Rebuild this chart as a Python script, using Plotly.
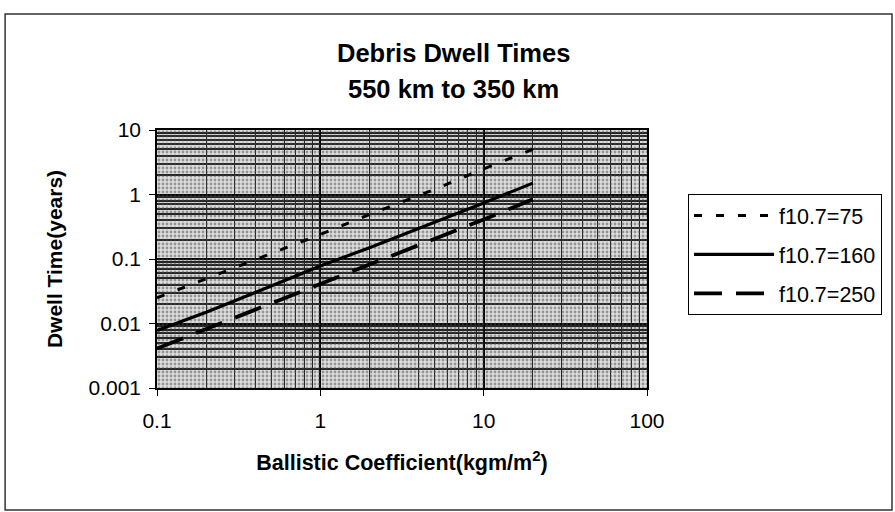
import plotly.graph_objects as go

# ---- data ----
ballistic_coef = [0.1, 0.2, 0.5, 1, 2, 5, 10, 20]
f75 = [0.025, 0.049, 0.12, 0.24, 0.49, 1.2, 2.5, 5.0]
f160 = [0.0078, 0.015, 0.038, 0.078, 0.15, 0.37, 0.74, 1.5]
f250 = [0.0041, 0.0082, 0.020, 0.041, 0.081, 0.20, 0.41, 0.84]

series_names = ["f10.7=75", "f10.7=160", "f10.7=250"]
x_range = [0.1, 100]
y_range = [0.001, 10]
x_ticks = [0.1, 1, 10, 100]
x_ticklabels = ["0.1", "1", "10", "100"]
y_ticks = [0.001, 0.01, 0.1, 1, 10]
y_ticklabels = ["0.001", "0.01", "0.1", "1", "10"]

FONT = "Liberation Sans, Arial, sans-serif"

fig = go.Figure()

# stippled plot-area background
fig.add_trace(go.Scatter(
    x=[x_range[0], x_range[1], x_range[1], x_range[0], x_range[0]],
    y=[y_range[0], y_range[0], y_range[1], y_range[1], y_range[0]],
    mode="none", fill="toself", fillcolor="rgba(0,0,0,0)",
    fillpattern=dict(shape=".", fgcolor="#4a4a4a", bgcolor="rgba(0,0,0,0)",
                     size=4, solidity=0.4),
    showlegend=False, hoverinfo="skip"))

fig.add_trace(go.Scatter(x=ballistic_coef, y=f75, mode="lines", name=series_names[0],
                         legendgroup="a",
                         line=dict(color="black", width=3, dash="8px,14px")))
fig.add_trace(go.Scatter(x=ballistic_coef, y=f160, mode="lines", name=series_names[1],
                         legendgroup="b",
                         line=dict(color="black", width=3.2)))
fig.add_trace(go.Scatter(x=ballistic_coef, y=f250, mode="lines", name=series_names[2],
                         legendgroup="c",
                         line=dict(color="black", width=3.8, dash="28px,14px")))

axis_common = dict(
    type="log", showline=True, linecolor="black", linewidth=1.5, mirror=True,
    showgrid=True, gridcolor="black", gridwidth=1.5,
    ticks="outside", ticklen=6, tickcolor="black",
    tickfont=dict(family=FONT, size=21, color="black"),
    zeroline=False,
)

fig.update_layout(
    width=895, height=512,
    margin=dict(l=157, r=248, t=130, b=124),
    paper_bgcolor="white", plot_bgcolor="#dedede",
    font=dict(family=FONT, color="black"),
    xaxis=dict(axis_common, range=[-1, 2], tickvals=x_ticks, ticktext=x_ticklabels,
               ticklabelstandoff=7,
               minor=dict(dtick="D1", showgrid=True, gridcolor="#222222", gridwidth=1, ticks=""),
               title=dict(text="<b>Ballistic Coefficient(kgm/m<sup>2</sup>)</b>",
                          font=dict(family=FONT, size=21.5), standoff=24)),
    yaxis=dict(axis_common, range=[-3, 1], tickvals=y_ticks, ticktext=y_ticklabels,
               ticklabelstandoff=4,
               minor=dict(dtick="D1", showgrid=True, gridcolor="#222222", gridwidth=1.5, ticks=""),
               title=dict(text="<b>Dwell Time(years)</b>",
                          font=dict(family=FONT, size=21), standoff=20)),
    legend=dict(x=1.0837, y=0.752, xanchor="left", yanchor="top",
                bgcolor="white", bordercolor="black", borderwidth=1,
                font=dict(family=FONT, size=21.5, color="black"),
                itemwidth=80, tracegroupgap=8),
    showlegend=True,
)

fig.add_annotation(text="<b>Debris Dwell Times</b>", xref="paper", yref="paper",
                   x=0.606, y=1.297, xanchor="center", yanchor="middle", showarrow=False,
                   font=dict(family=FONT, size=25.5, color="black"))
fig.add_annotation(text="<b>550 km to 350 km</b>", xref="paper", yref="paper",
                   x=0.606, y=1.159, xanchor="center", yanchor="middle", showarrow=False,
                   font=dict(family=FONT, size=25.5, color="black"))

# outer chart frame
fig.add_shape(type="rect", xref="paper", yref="paper",
              x0=-0.31, x1=1.50, y0=-0.473, y1=1.450,
              line=dict(color="#333333", width=1.5), fillcolor="rgba(0,0,0,0)", layer="below")

fig.write_html("out.html", config={"displayModeBar": False},
               post_script="document.body.style.margin='0';")
